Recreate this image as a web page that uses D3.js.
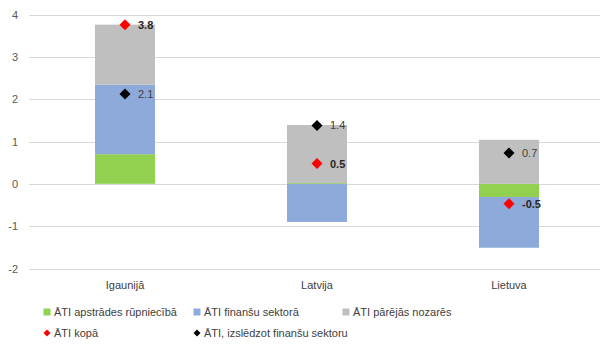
<!DOCTYPE html>
<html><head><meta charset="utf-8">
<script src="https://cdn.jsdelivr.net/npm/d3@7"></script>
<style>body{margin:0;background:#fff}svg{display:block}text{font-family:"Liberation Sans",Arial,sans-serif}</style>
</head><body><svg id="c" width="608" height="351"></svg>
<script>
const categories = ["Igaunijā", "Latvija", "Lietuva"];
const manufacturing = [0.70, 0.02, -0.31];
const financial = [1.64, -0.90, -1.20];
const other = [1.42, 1.37, 1.04];
const totalFDI = [3.76, 0.48, -0.47];
const exclFinancial = [2.12, 1.38, 0.73];
const totalLabels = ["3.8", "0.5", "-0.5"];
const exclLabels = ["2.1", "1.4", "0.7"];
const yTicks = [-2, -1, 0, 1, 2, 3, 4];
const seriesNames = ["ĀTI apstrādes rūpniecībā", "ĀTI finanšu sektorā", "ĀTI pārējās nozarēs", "ĀTI kopā", "ĀTI, izslēdzot finanšu sektoru"];
const colors = ["#92d050", "#8eaadb", "#bfbfbf", "#ff0000", "#000000"];

const svg = d3.select("#c");
const x = d3.scaleBand().domain(categories).range([29, 605]).paddingInner(0.6875).paddingOuter(0.34375);
const y = d3.scaleLinear().domain([-2, 4]).range([268.5, 14.5]);

// gridlines
svg.append("g").selectAll("line").data(yTicks).join("line")
  .attr("x1", 29).attr("x2", 600).attr("y1", d => Math.round(y(d)) + 0.5).attr("y2", d => Math.round(y(d)) + 0.5)
  .attr("stroke", "#d9d9d9").attr("stroke-width", 1);
svg.append("g").selectAll("text").data(yTicks).join("text")
  .attr("x", 18).attr("y", d => y(d) + 4).attr("text-anchor", "end")
  .attr("font-size", 11).attr("fill", "#595959").text(d => d);

// stacked bars
const seriesVals = [manufacturing, financial, other];
const posBase = categories.map(() => 0), negBase = categories.map(() => 0);
seriesVals.forEach((vals, si) => {
  vals.forEach((v, i) => {
    let y0, y1;
    if (v >= 0) { y0 = posBase[i]; y1 = y0 + v; posBase[i] = y1; }
    else { y0 = negBase[i]; y1 = y0 + v; negBase[i] = y1; }
    svg.append("rect").attr("x", x(categories[i])).attr("width", x.bandwidth())
      .attr("y", y(Math.max(y0, y1))).attr("height", Math.abs(y(y0) - y(y1)))
      .attr("fill", colors[si]);
  });
});

const diamond = d3.symbol().type(d3.symbolDiamond2 || d3.symbolSquare).size(60);
function diamondPath(s) { return `M0,${-s}L${s},0L0,${s}L${-s},0Z`; }
function drawPoints(vals, labels, color, bold) {
  vals.forEach((v, i) => {
    const cx = x(categories[i]) + x.bandwidth() / 2, cy = y(v);
    svg.append("path").attr("d", diamondPath(5.5)).attr("transform", `translate(${cx},${cy})`).attr("fill", color);
    svg.append("text").attr("x", cx + 13).attr("y", cy + 4).attr("font-size", 11)
      .attr("font-weight", bold ? "bold" : "normal").attr("fill", bold ? "#262626" : "#404040").text(labels[i]);
  });
}
drawPoints(exclFinancial, exclLabels, colors[4], false);
drawPoints(totalFDI, totalLabels, colors[3], true);

// category labels
svg.append("g").selectAll("text").data(categories).join("text")
  .attr("x", d => x(d) + x.bandwidth() / 2).attr("y", 289).attr("text-anchor", "middle")
  .attr("font-size", 11).attr("fill", "#404040").text(d => d);

// legend
const legendPos = [[47, 312], [197, 312], [346, 312], [47, 333], [197, 333]];
seriesNames.forEach((n, i) => {
  const [lx, ly] = legendPos[i];
  if (i < 3) svg.append("rect").attr("x", lx - 3.5).attr("y", ly - 3.5).attr("width", 7).attr("height", 7).attr("fill", colors[i]);
  else svg.append("path").attr("d", diamondPath(3.5)).attr("transform", `translate(${lx},${ly})`).attr("fill", colors[i]);
  svg.append("text").attr("x", lx + 7).attr("y", ly + 4).attr("font-size", 11).attr("fill", "#404040").text(n);
});
</script></body></html>
